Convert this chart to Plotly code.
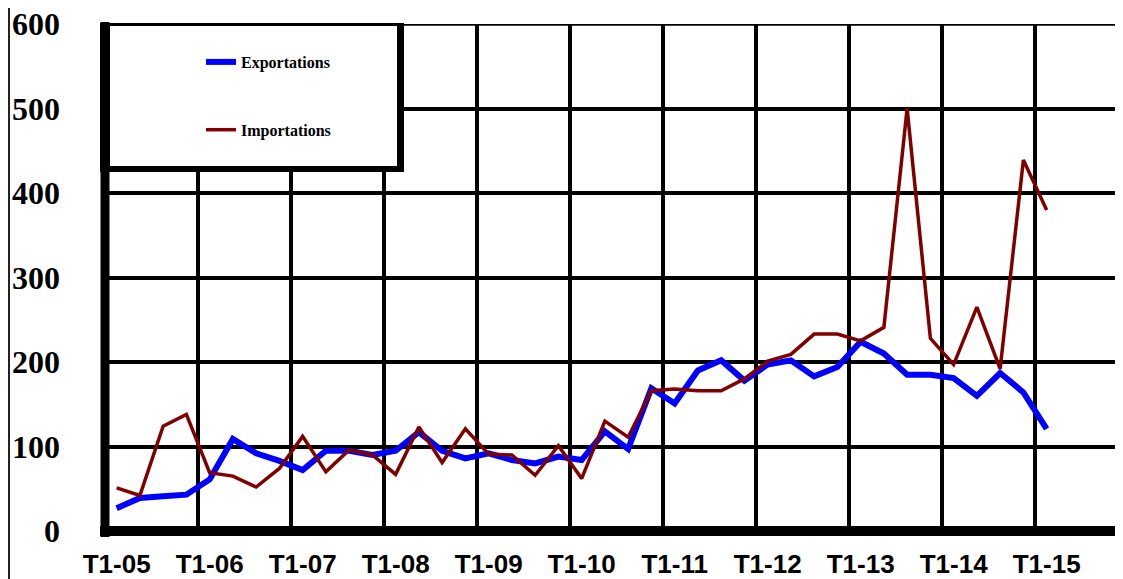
import plotly.graph_objects as go

# ---- data -------------------------------------------------------------
years = ["05", "06", "07", "08", "09", "10", "11", "12", "13", "14", "15"]
quarter_names = ["T1", "T2", "T3", "T4"]
quarters = [f"{q}-{y}" for y in years for q in quarter_names]  # 44 categories

exportations = [27, 39, 41, 43, 61, 109, 92, 83, 72, 95, 95, 90, 95, 117, 95, 86,
                92, 84, 80, 88, 84, 118, 97, 169, 151, 190, 202, 178, 197, 202,
                183, 194, 224, 210, 185, 185, 181, 160, 187, 164, 121]
importations = [51, 42, 124, 138, 69, 65, 52, 74, 112, 70, 96, 90, 67, 123, 81, 121,
                91, 90, 66, 101, 62, 130, 111, 166, 168, 166, 166, 180, 201, 209,
                233, 233, 225, 241, 500, 228, 197, 265, 192, 439, 380]

y_ticks = [0, 100, 200, 300, 400, 500, 600]

# ---- layout geometry (pixels) ----------------------------------------
OFF = 8                      # page body margin of the browser
W, H = 1123 - OFF, 579 - OFF
L, R, T, B = 97, 0, 16, 48
PW, PH = W - L - R, H - T - B


def px(xp):
    """page x pixel -> paper x"""
    return (xp - OFF - L) / PW


def py(yp):
    """page y pixel -> paper y"""
    return (H - B - (yp - OFF)) / PH


fig = go.Figure()
fig.add_trace(go.Scatter(
    x=quarters[:len(exportations)], y=exportations, name="Exportations",
    mode="lines", line=dict(color="#0000FF", width=6), legendgroup="e"))
fig.add_trace(go.Scatter(
    x=quarters[:len(importations)], y=importations, name="Importations",
    mode="lines", line=dict(color="#800000", width=3.5), legendgroup="i"))

shapes = [
    # top grid line (plotly drops grid lines that sit on the plot edge)
    dict(type="line", xref="paper", yref="y", x0=0, x1=1,
         y0=y_ticks[-1], y1=y_ticks[-1], line=dict(color="black", width=3.5),
         layer="below"),
    # outer frame line on the left
    dict(type="line", xref="paper", yref="paper", x0=px(9), x1=px(9),
         y0=py(579), y1=py(8), line=dict(color="#222", width=2), layer="above"),
    # legend box (black then white inside)
    dict(type="rect", xref="paper", yref="paper", x0=px(100), x1=px(404),
         y0=py(172), y1=py(23), fillcolor="black", line=dict(width=0), layer="above"),
    dict(type="rect", xref="paper", yref="paper", x0=px(110), x1=px(397),
         y0=py(166), y1=py(26), fillcolor="white", line=dict(width=0), layer="above"),
    # thick axis lines
    dict(type="line", xref="paper", yref="paper", x0=px(105), x1=px(105),
         y0=py(537), y1=py(22), line=dict(color="black", width=9), layer="above"),
    dict(type="line", xref="paper", yref="paper", x0=px(100), x1=px(1123),
         y0=py(531), y1=py(531), line=dict(color="black", width=10), layer="above"),
]

fig.update_layout(
    width=W, height=H,
    margin=dict(l=L, r=R, t=T, b=B, autoexpand=False),
    paper_bgcolor="white", plot_bgcolor="white",
    shapes=shapes,
    showlegend=True,
    legend=dict(
        x=px(201), y=py(45), xanchor="left", yanchor="top",
        bgcolor="rgba(0,0,0,0)", borderwidth=0,
        traceorder="grouped", tracegroupgap=44,
        font=dict(family="Liberation Serif", size=16, color="black", weight=700),
    ),
    xaxis=dict(
        type="category", categoryorder="array", categoryarray=quarters,
        range=[-0.5, -0.5 + PW / 23.25],
        tickmode="linear", tick0=0, dtick=4, tickson="boundaries",
        showgrid=True, gridcolor="black", gridwidth=4,
        showline=False, zeroline=False, ticks="",
        tickangle=0, automargin=False,
        ticklabelstandoff=15,
        tickfont=dict(family="Liberation Sans", size=26, color="black", weight=700),
    ),
    yaxis=dict(
        range=[0, 600.01], tickvals=y_ticks,
        showgrid=True, gridcolor="black", gridwidth=3.5,
        showline=False, zeroline=False, ticks="", automargin=False,
        ticklabelstandoff=44, ticklabeloverflow="allow",
        tickfont=dict(family="Liberation Serif", size=32, color="black", weight=700),
    ),
)

fig.write_html("out.html")
